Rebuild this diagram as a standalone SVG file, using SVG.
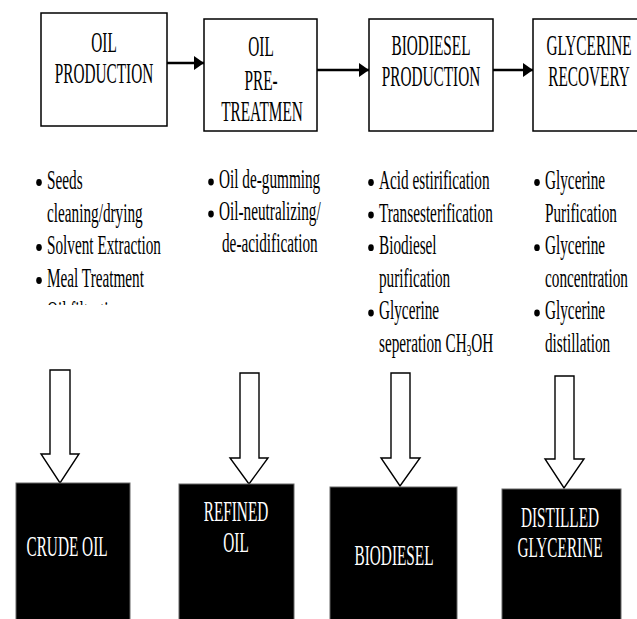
<svg xmlns="http://www.w3.org/2000/svg" width="637" height="619" viewBox="0 0 637 619">
<style>
.t{font-family:"Liberation Serif","Times New Roman",serif;font-size:28px;fill:#000}
.h{font-size:30px}
.w{fill:#fff}
.box{fill:#fff;stroke:#000;stroke-width:1.5}
.blk{fill:#000;stroke:#666;stroke-width:1}
.ba{fill:#fff;stroke:#000;stroke-width:1.4;stroke-linejoin:miter}
.conn{stroke:#000;stroke-width:2.5;fill:none}
.dot{fill:#000}
</style>
<defs>
<marker id="ah" markerUnits="userSpaceOnUse" markerWidth="10" markerHeight="14" refX="10" refY="7" orient="auto">
<path d="M0,0 L10,7 L0,14 z" fill="#000"/>
</marker>
<clipPath id="cut"><rect x="0" y="0" width="200" height="305"/></clipPath>
</defs>
<rect width="637" height="619" fill="#fff"/>

<g id="oil-production">
<rect class="box" x="41" y="13" width="126" height="113"/>
<text class="t h" text-anchor="middle" transform="translate(104 52) scale(.51 1)">OIL</text>
<text class="t h" text-anchor="middle" transform="translate(104 83) scale(.51 1)">PRODUCTION</text>
</g>
<g id="oil-pretreatment">
<rect class="box" x="204" y="19" width="113" height="112"/>
<text class="t h" text-anchor="middle" transform="translate(261 56) scale(.51 1)">OIL</text>
<text class="t h" text-anchor="middle" transform="translate(261 90) scale(.51 1)">PRE-</text>
<text class="t h" text-anchor="middle" transform="translate(262 121) scale(.51 1)">TREATMEN</text>
</g>
<g id="biodiesel-production">
<rect class="box" x="369" y="19" width="124" height="112"/>
<text class="t h" text-anchor="middle" transform="translate(431 55) scale(.51 1)">BIODIESEL</text>
<text class="t h" text-anchor="middle" transform="translate(431 86) scale(.51 1)">PRODUCTION</text>
</g>
<g id="glycerine-recovery">
<rect class="box" x="533" y="19" width="112" height="112"/>
<text class="t h" text-anchor="middle" transform="translate(589 55) scale(.51 1)">GLYCERINE</text>
<text class="t h" text-anchor="middle" transform="translate(589 86) scale(.51 1)">RECOVERY</text>
</g>

<g id="connectors">
<line class="conn" x1="167" y1="63" x2="204" y2="63" marker-end="url(#ah)"/>
<line class="conn" x1="317" y1="70" x2="369" y2="70" marker-end="url(#ah)"/>
<line class="conn" x1="493" y1="70" x2="533" y2="70" marker-end="url(#ah)"/>
<path class="ba" d="M50,370 H70 V454 H79 L60,483 L41,454 H50 Z"/>
<path class="ba" d="M240,373 H259 V458 H268 L249,484 L230,458 H240 Z"/>
<path class="ba" d="M391,373 H410 V458 H420 L400,486 L381,458 H391 Z"/>
<path class="ba" d="M555,376 H574 V459 H584 L564,488 L545,459 H555 Z"/>
</g>

<g id="list-oil-production">
<ellipse class="dot" cx="39" cy="182.5" rx="2.8" ry="3.4"/>
<text class="t" transform="translate(47 189) scale(.545 1)">Seeds</text>
<text class="t" transform="translate(47 221.5) scale(.545 1)">cleaning/drying</text>
<ellipse class="dot" cx="39" cy="247.5" rx="2.8" ry="3.4"/>
<text class="t" transform="translate(47 254) scale(.545 1)">Solvent Extraction</text>
<ellipse class="dot" cx="39" cy="280.5" rx="2.8" ry="3.4"/>
<text class="t" transform="translate(47 287) scale(.545 1)">Meal Treatment</text>
<g clip-path="url(#cut)">
<ellipse class="dot" cx="39" cy="313" rx="2.8" ry="3.4"/>
<text class="t" transform="translate(47 320) scale(.545 1)">Oil filtration</text>
</g>
</g>

<g id="list-oil-pretreatment">
<ellipse class="dot" cx="211" cy="182" rx="2.8" ry="3.4"/>
<text class="t" transform="translate(219 188) scale(.545 1)">Oil de-gumming</text>
<ellipse class="dot" cx="211" cy="214" rx="2.8" ry="3.4"/>
<text class="t" transform="translate(219 220) scale(.545 1)">Oil-neutralizing/</text>
<text class="t" transform="translate(222 252) scale(.545 1)">de-acidification</text>
</g>

<g id="list-biodiesel-production">
<ellipse class="dot" cx="371" cy="182.5" rx="2.8" ry="3.4"/>
<text class="t" transform="translate(379 189) scale(.545 1)">Acid estirification</text>
<ellipse class="dot" cx="371" cy="215" rx="2.8" ry="3.4"/>
<text class="t" transform="translate(379 221.6) scale(.545 1)">Transesterification</text>
<ellipse class="dot" cx="371" cy="247.7" rx="2.8" ry="3.4"/>
<text class="t" transform="translate(379 254.2) scale(.545 1)">Biodiesel</text>
<text class="t" transform="translate(379 286.8) scale(.545 1)">purification</text>
<ellipse class="dot" cx="371" cy="313" rx="2.8" ry="3.4"/>
<text class="t" transform="translate(379 319.4) scale(.545 1)">Glycerine</text>
<text class="t" transform="translate(379 352) scale(.545 1)">seperation CH<tspan font-size="17" dy="4">3</tspan><tspan dy="-4">OH</tspan></text>
</g>

<g id="list-glycerine-recovery">
<ellipse class="dot" cx="537" cy="182.5" rx="2.8" ry="3.4"/>
<text class="t" transform="translate(545 189) scale(.545 1)">Glycerine</text>
<text class="t" transform="translate(545 221.6) scale(.545 1)">Purification</text>
<ellipse class="dot" cx="537" cy="247.7" rx="2.8" ry="3.4"/>
<text class="t" transform="translate(545 254.2) scale(.545 1)">Glycerine</text>
<text class="t" transform="translate(545 286.8) scale(.545 1)">concentration</text>
<ellipse class="dot" cx="537" cy="313" rx="2.8" ry="3.4"/>
<text class="t" transform="translate(545 319.4) scale(.545 1)">Glycerine</text>
<text class="t" transform="translate(545 352) scale(.545 1)">distillation</text>
</g>

<g id="crude-oil">
<rect class="blk" x="16" y="483" width="114" height="140"/>
<text class="t h w" text-anchor="middle" transform="translate(67 556) scale(.51 1)">CRUDE OIL</text>
</g>
<g id="refined-oil">
<rect class="blk" x="179" y="484" width="115" height="140"/>
<text class="t h w" text-anchor="middle" transform="translate(236 521) scale(.51 1)">REFINED</text>
<text class="t h w" text-anchor="middle" transform="translate(236 552) scale(.51 1)">OIL</text>
</g>
<g id="biodiesel">
<rect class="blk" x="330" y="487" width="127" height="140"/>
<text class="t h w" text-anchor="middle" transform="translate(394 565) scale(.51 1)">BIODIESEL</text>
</g>
<g id="distilled-glycerine">
<rect class="blk" x="502" y="489" width="119" height="140"/>
<text class="t h w" text-anchor="middle" transform="translate(560 527) scale(.51 1)">DISTILLED</text>
<text class="t h w" text-anchor="middle" transform="translate(560 557) scale(.51 1)">GLYCERINE</text>
</g>
</svg>
